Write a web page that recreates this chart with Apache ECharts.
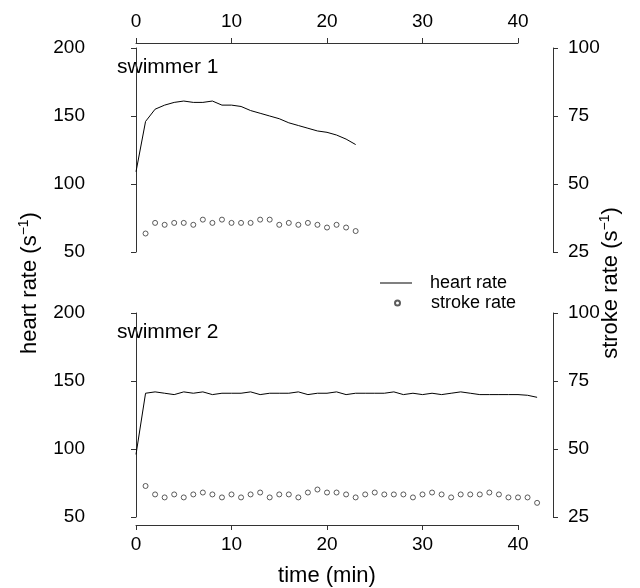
<!DOCTYPE html>
<html>
<head>
<meta charset="utf-8">
<script src="https://cdn.jsdelivr.net/npm/echarts@6/dist/echarts.min.js"></script>
<style>html,body{margin:0;padding:0;background:#fff}#c{width:640px;height:588px}</style>
</head>
<body>
<div id="c"></div>
<script>
// ---- data ----
const time1 = [0,1,2,3,4,5,6,7,8,9,10,11,12,13,14,15,16,17,18,19,20,21,22,23];
const heartRate1 = [109,146,155,158,160,161,160,160,161,158,158,157,154,152,150,148,145,143,141,139,138,136,133,129];
const strokeTime1 = [1,2,3,4,5,6,7,8,9,10,11,12,13,14,15,16,17,18,19,20,21,22,23];
const strokeRate1 = [31.8,35.7,35.0,35.7,35.7,35.0,36.9,35.7,36.9,35.7,35.7,35.7,36.9,36.9,35.0,35.7,35.0,35.7,35.0,34.0,35.0,34.0,32.7];

const time2 = [0,1,2,3,4,5,6,7,8,9,10,11,12,13,14,15,16,17,18,19,20,21,22,23,24,25,26,27,28,29,30,31,32,33,34,35,36,37,38,39,40,41,42];
const heartRate2 = [96,141,142,141,140,142,141,142,140,141,141,141,142,140,141,141,141,142,140,141,141,142,140,141,141,141,141,142,140,141,140,141,140,141,142,141,140,140,140,140,140,139.5,138];
const strokeTime2 = [1,2,3,4,5,6,7,8,9,10,11,12,13,14,15,16,17,18,19,20,21,22,23,24,25,26,27,28,29,30,31,32,33,34,35,36,37,38,39,40,41,42];
const strokeRate2 = [36.4,33.3,32.2,33.3,32.2,33.3,34.0,33.3,32.2,33.3,32.2,33.3,34.0,32.2,33.3,33.3,32.2,34.0,35.1,34.0,34.0,33.3,32.2,33.3,34.0,33.3,33.3,33.3,32.2,33.3,34.0,33.3,32.2,33.3,33.3,33.3,34.0,33.3,32.2,32.2,32.2,30.2];

const timeTicks = [0,10,20,30,40];
const heartTicks = [50,100,150,200];
const strokeTicks = [25,50,75,100];
const panelLabels = ['swimmer 1','swimmer 2'];
const seriesNames = ['heart rate','stroke rate'];

// ---- chart ----
const FONT = '"Liberation Sans", Arial, Helvetica, sans-serif';
const AX = '#333';
const chart = echarts.init(document.getElementById('c'), null, {renderer:'canvas'});

const pxPerMin = 382/40;
const xMinData = -37/pxPerMin;
const xMaxData = 40 + 35/pxPerMin;

function yAx(grid, ticks, pos){
  return {
    type:'value', gridIndex:grid, position:pos,
    min:ticks[0], max:ticks[ticks.length-1], interval:ticks[1]-ticks[0],
    axisLine:{show:true, lineStyle:{color:AX, width:1}},
    axisTick:{show:true, length:5, lineStyle:{color:AX}},
    axisLabel:{color:'#000', fontSize:19, fontFamily:FONT, margin: pos==='left'?14:15},
    splitLine:{show:false}
  };
}
function xData(grid){
  return {type:'value', gridIndex:grid, min:xMinData, max:xMaxData, show:false};
}
function xTickAx(grid, pos){
  return {
    type:'value', gridIndex:grid, position:pos,
    min:timeTicks[0], max:timeTicks[timeTicks.length-1], interval:timeTicks[1]-timeTicks[0],
    axisLine:{show:true, lineStyle:{color:AX, width:1}},
    axisTick:{show:true, length:5, lineStyle:{color:AX}},
    axisLabel:{color:'#000', fontSize:19, fontFamily:FONT, margin: pos==='top' ? 11 : 10},
    splitLine:{show:false},
    name: pos==='bottom' ? 'time (min)' : '',
    nameLocation:'middle', nameGap:40,
    nameTextStyle:{color:'#000', fontSize:22, fontFamily:FONT}
  };
}

const circleStyle = {color:'rgba(0,0,0,0)', borderColor:'#333', borderWidth:1};

const option = {
  animation:false,
  backgroundColor:'#fff',
  grid:[
    {left:99, width:454, top:48, height:204},
    {left:99, width:454, top:313, height:204},
    {left:136, width:382, top:42, height:1},
    {left:136, width:382, top:524, height:1}
  ],
  xAxis:[ xData(0), xData(1), xTickAx(2,'top'), xTickAx(3,'bottom') ],
  yAxis:[
    yAx(0, heartTicks, 'left'), yAx(0, strokeTicks, 'right'),
    yAx(1, heartTicks, 'left'), yAx(1, strokeTicks, 'right'),
    {type:'value', gridIndex:2, show:false}, {type:'value', gridIndex:3, show:false}
  ],
  legend:[
    {orient:'vertical', left:380, top:274, padding:0, itemWidth:32, itemHeight:1, icon:'rect',
     textStyle:{color:'#000', fontSize:18, fontFamily:FONT, padding:[0,0,0,13]},
     data:[seriesNames[0]], selectedMode:false},
    {orient:'vertical', left:394, top:294, padding:0, itemWidth:5, itemHeight:5, icon:'circle',
     textStyle:{color:'#000', fontSize:18, fontFamily:FONT, padding:[0,0,0,26]},
     data:[seriesNames[1]], selectedMode:false}
  ],
  series:[
    {name:seriesNames[0], type:'line', xAxisIndex:0, yAxisIndex:0, symbol:'none',
     lineStyle:{color:'#000', width:1}, itemStyle:{color:'#000'},
     data: time1.map((t,i)=>[t, heartRate1[i]])},
    {name:seriesNames[1], type:'scatter', xAxisIndex:0, yAxisIndex:1, symbol:'circle', symbolSize:5,
     itemStyle:circleStyle,
     data: strokeTime1.map((t,i)=>[t, strokeRate1[i]])},
    {name:seriesNames[0], type:'line', xAxisIndex:1, yAxisIndex:2, symbol:'none',
     lineStyle:{color:'#000', width:1}, itemStyle:{color:'#000'},
     data: time2.map((t,i)=>[t, heartRate2[i]])},
    {name:seriesNames[1], type:'scatter', xAxisIndex:1, yAxisIndex:3, symbol:'circle', symbolSize:5,
     itemStyle:circleStyle,
     data: strokeTime2.map((t,i)=>[t, strokeRate2[i]])}
  ],
  graphic:[
    {type:'text', left:117, top:57, style:{text:panelLabels[0], fill:'#000', font:'21px '+FONT}},
    {type:'text', left:117, top:322, style:{text:panelLabels[1], fill:'#000', font:'21px '+FONT}},
    {type:'text', x:30, y:283, rotation:Math.PI/2,
     style:{text:'{a|heart rate (s}{b|−1}{a|)}', align:'center', verticalAlign:'middle',
       rich:{a:{fontSize:22, fontFamily:FONT, fill:'#000', color:'#000'},
             b:{fontSize:14, fontFamily:FONT, fill:'#000', color:'#000', padding:[0,0,12,0]}}}},
    {type:'text', x:611, y:283, rotation:Math.PI/2,
     style:{text:'{a|stroke rate (s}{b|−1}{a|)}', align:'center', verticalAlign:'middle',
       rich:{a:{fontSize:22, fontFamily:FONT, fill:'#000', color:'#000'},
             b:{fontSize:14, fontFamily:FONT, fill:'#000', color:'#000', padding:[0,0,12,0]}}}}
  ]
};
chart.setOption(option);
</script>
</body>
</html>
